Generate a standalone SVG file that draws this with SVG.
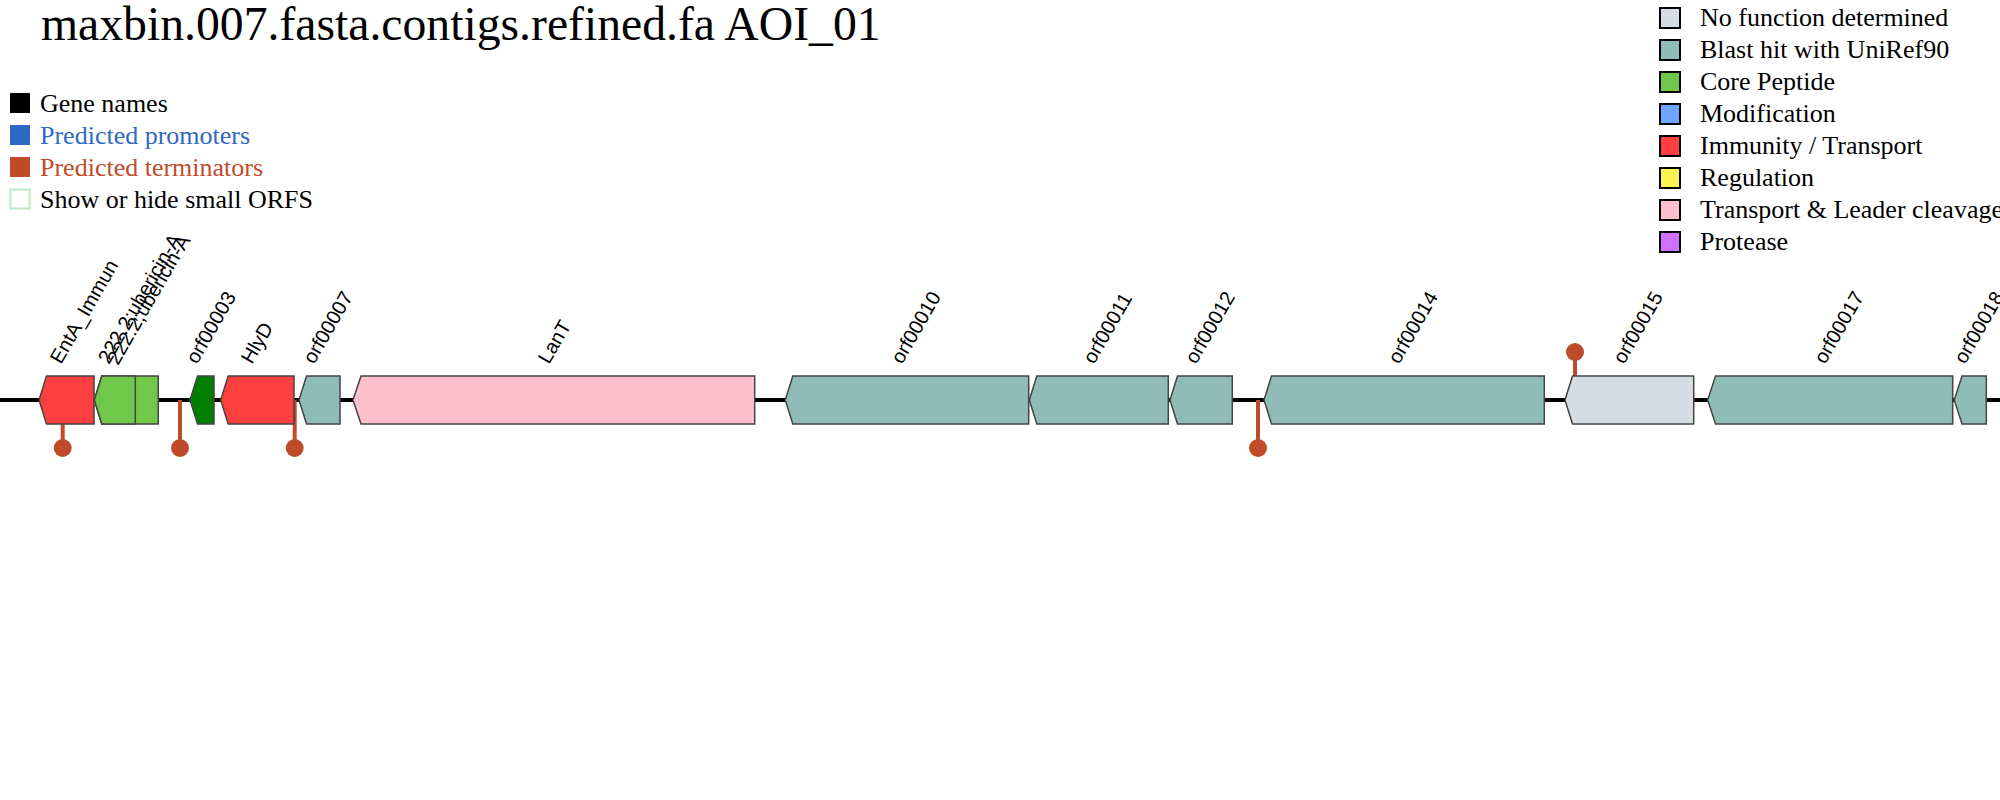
<svg xmlns="http://www.w3.org/2000/svg" width="2000" height="800" viewBox="0 0 2000 800">
<style>
.title{font-family:"Liberation Serif","Times New Roman",serif;font-size:47.7px;fill:#000}
.leg{font-family:"Liberation Serif","Times New Roman",serif;font-size:26px;fill:#000}
.lbl{font-family:"Liberation Sans",Arial,sans-serif;font-size:20px;fill:#000}
.gene{stroke:#444;stroke-width:1.5}
.sw{stroke:#000;stroke-width:2}
.term{stroke:#bf4b2a;stroke-width:4}
.termc{fill:#bf4b2a}
.none{fill:#d6dce6}.blast{fill:#8fbcb8}.core{fill:#70c84a}.mod{fill:#6ea6ff}.imm{fill:#ff4040}.reg{fill:#fff44f}.trans{fill:#ffc0cb}.prot{fill:#d070ff}.dark{fill:#008000}
</style>
<rect width="2000" height="800" fill="#fff"/>
<text class="title" x="41" y="40">maxbin.007.fasta.contigs.refined.fa AOI_01</text>
<g id="legend-left">
<rect x="10" y="93" width="20" height="20" fill="#000"/>
<text class="leg" x="40" y="112">Gene names</text>
<rect x="10" y="125" width="20" height="20" fill="#3068c6"/>
<text class="leg" x="40" y="144" style="fill:#3068c6">Predicted promoters</text>
<rect x="10" y="157" width="20" height="20" fill="#bf4b2a"/>
<text class="leg" x="40" y="176" style="fill:#bf4b2a">Predicted terminators</text>
<rect x="10.5" y="189.5" width="19" height="19" fill="#fff" stroke="#bfe8c8" stroke-width="2"/>
<text class="leg" x="40" y="208">Show or hide small ORFS</text>
</g>
<g id="legend-right">
<rect class="sw none" x="1660" y="8" width="20" height="20"/><text class="leg" x="1700" y="26">No function determined</text>
<rect class="sw blast" x="1660" y="40" width="20" height="20"/><text class="leg" x="1700" y="58">Blast hit with UniRef90</text>
<rect class="sw core" x="1660" y="72" width="20" height="20"/><text class="leg" x="1700" y="90">Core Peptide</text>
<rect class="sw mod" x="1660" y="104" width="20" height="20"/><text class="leg" x="1700" y="122">Modification</text>
<rect class="sw imm" x="1660" y="136" width="20" height="20"/><text class="leg" x="1700" y="154">Immunity / Transport</text>
<rect class="sw reg" x="1660" y="168" width="20" height="20"/><text class="leg" x="1700" y="186">Regulation</text>
<rect class="sw trans" x="1660" y="200" width="20" height="20"/><text class="leg" x="1700" y="218">Transport &amp; Leader cleavage</text>
<rect class="sw prot" x="1660" y="232" width="20" height="20"/><text class="leg" x="1700" y="250">Protease</text>
</g>
<g id="connectors">
<line x1="0" y1="400" x2="2000" y2="400" stroke="#000" stroke-width="4"/>
<line class="term" x1="62.7" y1="400" x2="62.7" y2="448"/><circle class="termc" cx="62.7" cy="448" r="9"/>
<line class="term" x1="180" y1="400" x2="180" y2="448"/><circle class="termc" cx="180" cy="448" r="9"/>
<line class="term" x1="294.7" y1="400" x2="294.7" y2="448"/><circle class="termc" cx="294.7" cy="448" r="9"/>
<line class="term" x1="1258" y1="400" x2="1258" y2="448"/><circle class="termc" cx="1258" cy="448" r="9"/>
<line class="term" x1="1575" y1="400" x2="1575" y2="352"/><circle class="termc" cx="1575" cy="352" r="9"/>
</g>
<g id="gene-EntA_Immun"><polygon class="gene imm" points="39,400 46.5,376 94,376 94,424 46.5,424"/><text class="lbl" transform="translate(61,365) rotate(-60)">EntA_Immun</text></g>
<g id="gene-ubericin-2"><polygon class="gene core" points="94.3,400 101.8,376 158.3,376 158.3,424 101.8,424"/><text class="lbl" transform="translate(118,366) rotate(-60)">222.2;ubericin-A</text></g>
<g id="gene-ubericin-1"><polygon class="gene core" points="94.3,400 101.8,376 135.3,376 135.3,424 101.8,424"/><text class="lbl" transform="translate(109,365) rotate(-60)">222.2;ubericin-A</text></g>
<g id="gene-orf00003"><polygon class="gene dark" points="190,400 197.5,376 214,376 214,424 197.5,424"/><text class="lbl" transform="translate(197,365) rotate(-60)">orf00003</text></g>
<g id="gene-HlyD"><polygon class="gene imm" points="220.7,400 228.2,376 294,376 294,424 228.2,424"/><text class="lbl" transform="translate(252,365) rotate(-60)">HlyD</text></g>
<g id="gene-orf00007"><polygon class="gene blast" points="299,400 306.5,376 340,376 340,424 306.5,424"/><text class="lbl" transform="translate(314,365) rotate(-60)">orf00007</text></g>
<g id="gene-LanT"><polygon class="gene trans" points="353,400 361,376 754.7,376 754.7,424 361,424"/><text class="lbl" transform="translate(549,365) rotate(-60)">LanT</text></g>
<g id="gene-orf00010"><polygon class="gene blast" points="785.3,400 792.8,376 1028.7,376 1028.7,424 792.8,424"/><text class="lbl" transform="translate(902,365) rotate(-60)">orf00010</text></g>
<g id="gene-orf00011"><polygon class="gene blast" points="1029.3,400 1036.8,376 1168.3,376 1168.3,424 1036.8,424"/><text class="lbl" transform="translate(1094,365) rotate(-60)">orf00011</text></g>
<g id="gene-orf00012"><polygon class="gene blast" points="1170,400 1177.5,376 1232.3,376 1232.3,424 1177.5,424"/><text class="lbl" transform="translate(1196,365) rotate(-60)">orf00012</text></g>
<g id="gene-orf00014"><polygon class="gene blast" points="1264,400 1271.5,376 1544.3,376 1544.3,424 1271.5,424"/><text class="lbl" transform="translate(1399,365) rotate(-60)">orf00014</text></g>
<g id="gene-orf00015"><polygon class="gene none" points="1565,400 1572.5,376 1693.7,376 1693.7,424 1572.5,424"/><text class="lbl" transform="translate(1624,365) rotate(-60)">orf00015</text></g>
<g id="gene-orf00017"><polygon class="gene blast" points="1707.7,400 1715.5,376 1952.7,376 1952.7,424 1715.5,424"/><text class="lbl" transform="translate(1825,365) rotate(-60)">orf00017</text></g>
<g id="gene-orf00018"><polygon class="gene blast" points="1954.3,400 1962,376 1986.3,376 1986.3,424 1962,424"/><text class="lbl" transform="translate(1965,365) rotate(-60)">orf00018</text></g>
</svg>
